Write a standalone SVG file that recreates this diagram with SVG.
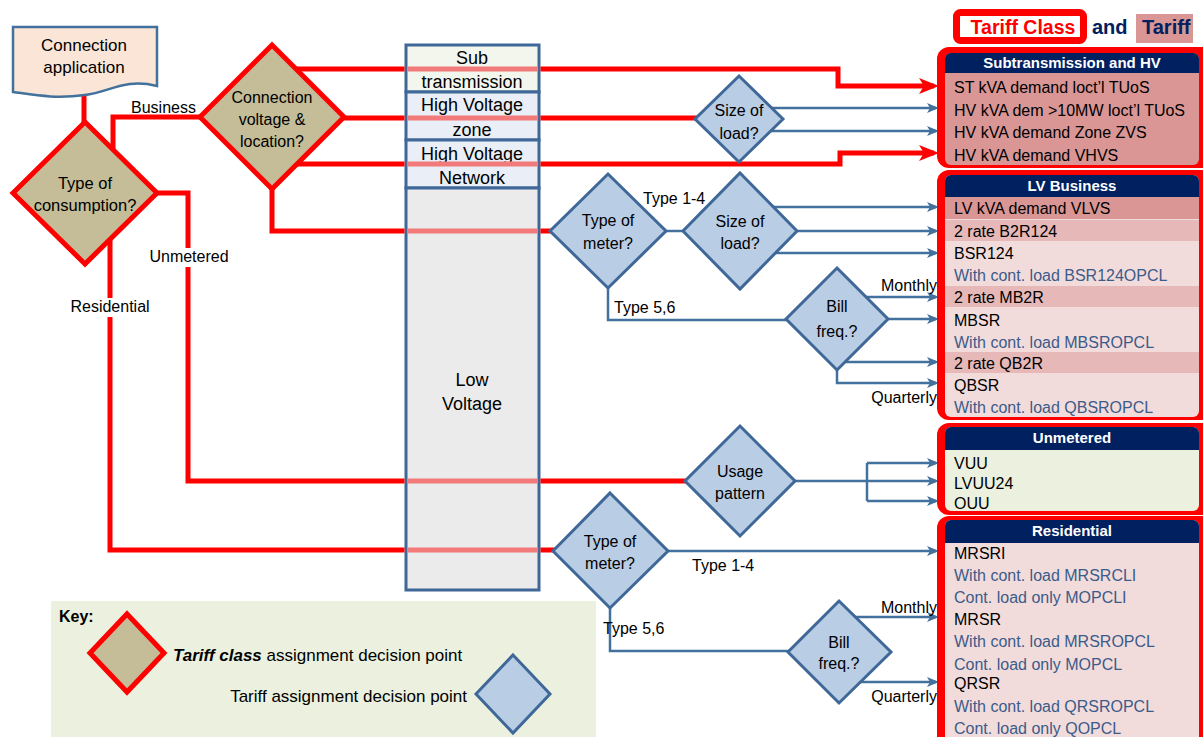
<svg xmlns="http://www.w3.org/2000/svg" width="1203" height="737" viewBox="0 0 1203 737">
<style>
text{font-family:"Liberation Sans",Arial,sans-serif;fill:#000}
.n{font-size:16px;text-anchor:middle}
.c{font-size:18px;text-anchor:middle}
.l{font-size:16px}
.le{font-size:16px;text-anchor:end}
.r{font-size:16px}
.rb{font-size:16px;fill:#3b5b8a}
.h{font-size:15px;font-weight:bold;fill:#fff;text-anchor:middle}
.red{fill:none;stroke:#ff0000;stroke-width:5}
.pink{fill:none;stroke:#f27a7a;stroke-width:5}
.blue{fill:none;stroke:#41719c;stroke-width:2.5}
.ra{marker-end:url(#ra)}
.ba{marker-end:url(#ba)}
.tan{fill:#c4bd97;stroke:#ff0000;stroke-width:5}
.bd{fill:#b9cde5;stroke:#3f6898;stroke-width:3}
.col{stroke:#3f6898;stroke-width:3}
.navy{fill:#002060}
.p1{fill:#d99694}
.p2{fill:#e6b9b8}
.p3{fill:#f2dcdb}
</style>
<defs>
<marker id="ra" markerUnits="userSpaceOnUse" viewBox="0 0 20 16" markerWidth="20" markerHeight="16" refX="15" refY="8" orient="auto"><path d="M0,0 L20,8 L0,16 L5,8 Z" fill="#ff0000"/></marker>
<marker id="ba" markerUnits="userSpaceOnUse" viewBox="0 0 12 10" markerWidth="12" markerHeight="10" refX="9" refY="5" orient="auto"><path d="M0,0 L12,5 L0,10 L3,5 Z" fill="#41719c"/></marker>
</defs>

<g id="title">
<rect x="956.5" y="12.5" width="127" height="28" rx="4" fill="#fff" stroke="#ff0000" stroke-width="7"/>
<text x="1023" y="34" style="font-size:19.5px;font-weight:bold;fill:#ff0000;text-anchor:middle">Tariff Class</text>
<text x="1092" y="34" style="font-size:20px;font-weight:bold;fill:#002060">and</text>
<rect x="1136" y="14" width="57" height="29" class="p1"/>
<text x="1142" y="34" style="font-size:20px;font-weight:bold;fill:#002060">Tariff</text>
</g>

<g id="column">
<rect x="406" y="45" width="133" height="47" fill="#f3f6ec" class="col"/>
<rect x="406" y="92" width="133" height="48" fill="#e9eef7" class="col"/>
<rect x="406" y="140" width="133" height="48" fill="#e9eef7" class="col"/>
<rect x="406" y="188" width="133" height="402" fill="#ebebeb" class="col"/>
<text class="c" x="472" y="64">Sub</text>
<text class="c" x="472" y="88">transmission</text>
<text class="c" x="472" y="111">High Voltage</text>
<text class="c" x="472" y="136">zone</text>
<text class="c" x="472" y="160">High Voltage</text>
<text class="c" x="472" y="184">Network</text>
<text class="c" x="472" y="386">Low</text>
<text class="c" x="472" y="410">Voltage</text>
</g>

<g id="key">
<rect x="51" y="601" width="545" height="140" fill="#ebf1de"/>
<text x="59" y="622" style="font-size:16px;font-weight:bold">Key:</text>
<polygon class="tan" points="127,614 164,653 127,692 90,653"/>
<text x="173" y="661" style="font-size:17px"><tspan style="font-weight:bold;font-style:italic">Tariff class</tspan> assignment decision point</text>
<text x="467" y="702" style="font-size:17px;text-anchor:end">Tariff assignment decision point</text>
<polygon class="bd" points="513,655 550,694 513,733 476,694"/>
</g>

<g id="connectors">
<path class="red" d="M84,94 V124"/>
<path class="red" d="M113,150 V117 H202"/>
<path class="red" d="M157,193 H188 V481 H404.5"/>
<path class="red" d="M540.5,481 H687"/>
<path class="pink" d="M407.5,481 H537.5"/>
<path class="red" d="M110,239 V550 H404.5"/>
<path class="red" d="M540.5,550 H555"/>
<path class="pink" d="M407.5,550 H537.5"/>
<path class="red" d="M296,69 H404.5"/>
<path class="red ra" d="M540.5,69 H838 V86 H934"/>
<path class="pink" d="M407.5,69 H537.5"/>
<path class="red" d="M344,118 H404.5"/>
<path class="red" d="M540.5,118 H697"/>
<path class="pink" d="M407.5,118 H537.5"/>
<path class="red" d="M297,164 H404.5"/>
<path class="red ra" d="M540.5,164 H840 V153 H934"/>
<path class="pink" d="M407.5,164 H537.5"/>
<path class="red" d="M272,189 V231 H404.5"/>
<path class="red" d="M540.5,231 H552"/>
<path class="pink" d="M407.5,231 H537.5"/>
<path class="blue ba" d="M770,108 H936"/>
<path class="blue ba" d="M770,131 H936"/>
<path class="blue" d="M664,231 H685"/>
<path class="blue ba" d="M772,207 H936"/>
<path class="blue ba" d="M795,231 H936"/>
<path class="blue ba" d="M774,253 H936"/>
<path class="blue" d="M608,286 V320 H788"/>
<path class="blue ba" d="M864,297 H936"/>
<path class="blue ba" d="M886,319 H936"/>
<path class="blue ba" d="M843,362 H936"/>
<path class="blue ba" d="M837,368 V383 H936"/>
<path class="blue ba" d="M793,481 H936"/>
<path class="blue" d="M867,463 V501"/>
<path class="blue ba" d="M867,463 H936"/>
<path class="blue ba" d="M867,501 H936"/>
<path class="blue ba" d="M666,551 H936"/>
<path class="blue" d="M610,606 V651 H790"/>
<path class="blue ba" d="M854,617 H936"/>
<path class="blue ba" d="M854,682 H936"/>
<rect x="146" y="248" width="86" height="19" fill="#fff"/>
<rect x="68" y="298" width="84" height="19" fill="#fff"/>
<text class="l" x="131" y="113">Business</text>
<text class="l" x="189" y="262" text-anchor="middle">Unmetered</text>
<text class="l" x="110" y="312" text-anchor="middle">Residential</text>
<text class="l" x="643" y="204">Type 1-4</text>
<text class="l" x="614" y="313">Type 5,6</text>
<text class="le" x="937" y="291">Monthly</text>
<text class="le" x="937" y="403">Quarterly</text>
<text class="l" x="692" y="571">Type 1-4</text>
<text class="l" x="603" y="634">Type 5,6</text>
<text class="le" x="937" y="613">Monthly</text>
<text class="le" x="937" y="702">Quarterly</text>
</g>

<g id="connection-application">
<path d="M13,27 H157 V86 C125,78 110,92 85,95 C55,99 35,95 13,92 Z" fill="#fbe5d6" stroke="#41719c" stroke-width="2.5"/>
<text x="84" y="51" style="font-size:17px;text-anchor:middle">Connection</text>
<text x="84" y="73" style="font-size:17px;text-anchor:middle">application</text>
</g>

<g id="type-of-consumption">
<polygon class="tan" points="85,122 157,193 85,264 13,193"/>
<text class="n" x="85" y="189" style="font-size:16.5px">Type of</text>
<text class="n" x="85" y="211" style="font-size:16.5px">consumption?</text>
</g>

<g id="connection-voltage">
<polygon class="tan" points="272,45 344,117 272,189 200,117"/>
<text class="n" x="272" y="103">Connection</text>
<text class="n" x="272" y="125">voltage &amp;</text>
<text class="n" x="272" y="147">location?</text>
</g>

<g id="size-of-load-hv">
<polygon class="bd" points="739,76 783,119 739,162 695,119"/>
<text class="n" x="739" y="116">Size of</text>
<text class="n" x="739" y="139">load?</text>
</g>

<g id="type-of-meter-lv">
<polygon class="bd" points="608,174 666,231 608,288 550,231"/>
<text class="n" x="608" y="226">Type of</text>
<text class="n" x="608" y="249">meter?</text>
</g>

<g id="size-of-load-lv">
<polygon class="bd" points="740,173 797,231 740,289 683,231"/>
<text class="n" x="740" y="227">Size of</text>
<text class="n" x="740" y="249">load?</text>
</g>

<g id="bill-freq-lv">
<polygon class="bd" points="837,268 888,319 837,370 786,319"/>
<text class="n" x="837" y="312">Bill</text>
<text class="n" x="837" y="337">freq.?</text>
</g>

<g id="usage-pattern">
<polygon class="bd" points="740,426 795,481 740,536 685,481"/>
<text class="n" x="740" y="477">Usage</text>
<text class="n" x="740" y="499">pattern</text>
</g>

<g id="type-of-meter-res">
<polygon class="bd" points="610,493 668,551 610,608 553,551"/>
<text class="n" x="610" y="547">Type of</text>
<text class="n" x="610" y="569">meter?</text>
</g>

<g id="bill-freq-res">
<polygon class="bd" points="839,601 891,652 839,703 788,652"/>
<text class="n" x="839" y="648">Bill</text>
<text class="n" x="839" y="669">freq.?</text>
</g>

<g id="box-subtransmission">
<rect x="937" y="47" width="280" height="121" rx="12" fill="#ff0000"/>
<rect x="945" y="53" width="254" height="112" rx="6" class="p1"/>
<rect x="945" y="53" width="254" height="20" rx="6" class="navy"/>
<rect x="945" y="63" width="254" height="10" class="navy"/>
<text class="h" x="1072" y="68">Subtransmission and HV</text>
<text class="r" x="954" y="93">ST kVA demand loct’l TUoS</text>
<text class="r" x="954" y="116">HV kVA dem &gt;10MW loct’l TUoS</text>
<text class="r" x="954" y="138">HV kVA demand Zone ZVS</text>
<text class="r" x="954" y="161">HV kVA demand VHVS</text>
</g>

<g id="box-lv-business">
<rect x="937" y="170" width="280" height="250" rx="12" fill="#ff0000"/>
<rect x="945" y="175" width="254" height="242" rx="6" class="p3"/>
<rect x="945" y="175" width="254" height="22" rx="6" class="navy"/>
<rect x="945" y="186" width="254" height="11" class="navy"/>
<rect x="945" y="197" width="254" height="22" class="p1"/>
<rect x="945" y="220" width="254" height="21" class="p2"/>
<rect x="945" y="286" width="254" height="21" class="p2"/>
<rect x="945" y="352" width="254" height="21" class="p2"/>
<text class="h" x="1072" y="191">LV Business</text>
<text class="r" x="954" y="214">LV kVA demand VLVS</text>
<text class="r" x="954" y="237">2 rate B2R124</text>
<text class="r" x="954" y="259">BSR124</text>
<text class="rb" x="954" y="281">With cont. load BSR124OPCL</text>
<text class="r" x="954" y="303">2 rate MB2R</text>
<text class="r" x="954" y="326">MBSR</text>
<text class="rb" x="954" y="348">With cont. load MBSROPCL</text>
<text class="r" x="954" y="369">2 rate QB2R</text>
<text class="r" x="954" y="391">QBSR</text>
<text class="rb" x="954" y="413">With cont. load QBSROPCL</text>
</g>

<g id="box-unmetered">
<rect x="937" y="423" width="280" height="92" rx="12" fill="#ff0000"/>
<rect x="945" y="427" width="254" height="84" rx="6" fill="#ebf1de"/>
<rect x="945" y="427" width="254" height="23" rx="6" class="navy"/>
<rect x="945" y="438" width="254" height="12" class="navy"/>
<text class="h" x="1072" y="443">Unmetered</text>
<text class="r" x="954" y="469">VUU</text>
<text class="r" x="954" y="489">LVUU24</text>
<text class="r" x="954" y="509">OUU</text>
</g>

<g id="box-residential">
<rect x="937" y="516" width="280" height="240" rx="12" fill="#ff0000"/>
<rect x="945" y="520" width="254" height="230" rx="6" class="p3"/>
<rect x="945" y="520" width="254" height="23" rx="6" class="navy"/>
<rect x="945" y="531" width="254" height="12" class="navy"/>
<text class="h" x="1072" y="536">Residential</text>
<text class="r" x="954" y="559">MRSRI</text>
<text class="rb" x="954" y="581">With cont. load MRSRCLI</text>
<text class="rb" x="954" y="603">Cont. load only MOPCLI</text>
<text class="r" x="954" y="625">MRSR</text>
<text class="rb" x="954" y="647">With cont. load MRSROPCL</text>
<text class="rb" x="954" y="670">Cont. load only MOPCL</text>
<text class="r" x="954" y="689">QRSR</text>
<text class="rb" x="954" y="712">With cont. load QRSROPCL</text>
<text class="rb" x="954" y="734">Cont. load only QOPCL</text>
</g>
</svg>
